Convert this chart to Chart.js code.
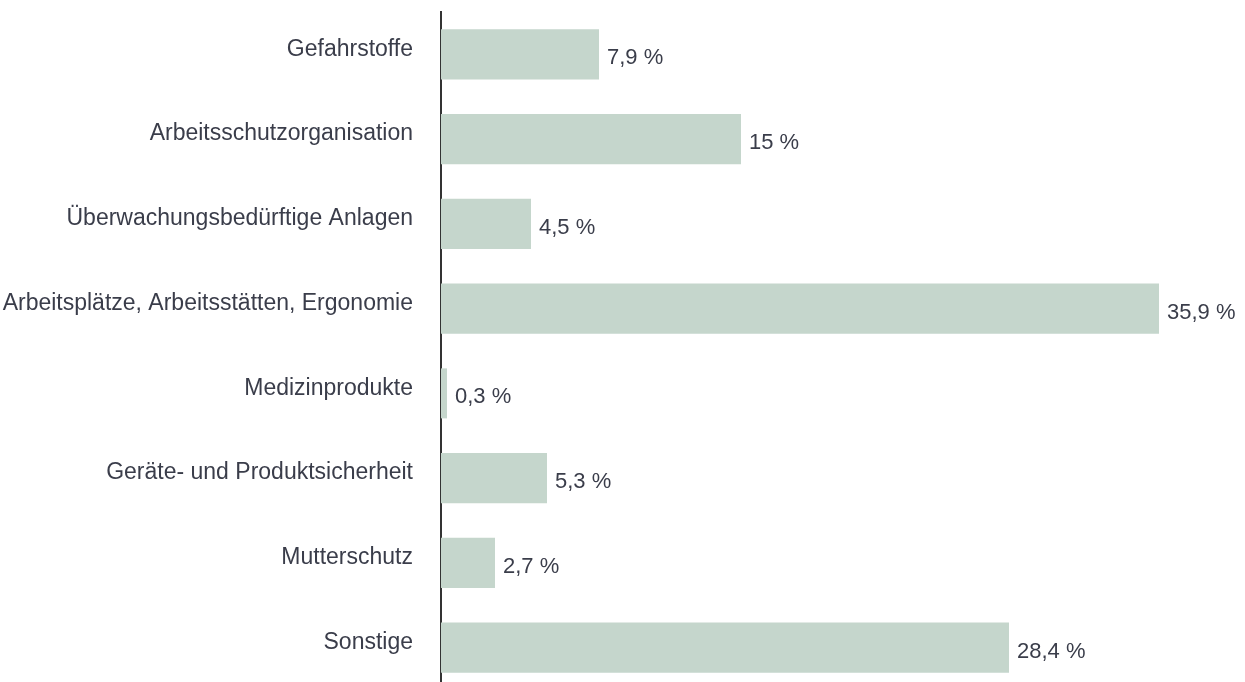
<!DOCTYPE html>
<html>
<head>
<meta charset="utf-8">
<script src="https://cdn.jsdelivr.net/npm/chart.js@4/dist/chart.umd.min.js"></script>
<style>
  html, body { margin: 0; padding: 0; background: #fff; overflow: hidden; }
  #wrap { width: 1245px; height: 690px; }
</style>
</head>
<body>
<div id="wrap"><canvas id="chart"></canvas></div>
<script>
// Kategorien und Anteile (in %)
const categories = [
    'Gefahrstoffe',
    'Arbeitsschutzorganisation',
    'Überwachungsbedürftige Anlagen',
    'Arbeitsplätze, Arbeitsstätten, Ergonomie',
    'Medizinprodukte',
    'Geräte- und Produktsicherheit',
    'Mutterschutz',
    'Sonstige'
];
const shares = [7.9, 15, 4.5, 35.9, 0.3, 5.3, 2.7, 28.4];
const shareLabels = ['7,9 %', '15 %', '4,5 %', '35,9 %', '0,3 %', '5,3 %', '2,7 %', '28,4 %'];

const FONT = '"Liberation Sans", Arial, sans-serif';
const TEXT = '#3a3d4a';

// draws the value text right of each bar
const valueLabels = {
    id: 'valueLabels',
    afterDatasetsDraw(chart) {
        const ctx = chart.ctx;
        const meta = chart.getDatasetMeta(0);
        ctx.save();
        ctx.font = '22px ' + FONT;
        ctx.fillStyle = TEXT;
        ctx.textAlign = 'left';
        ctx.textBaseline = 'middle';
        meta.data.forEach(function(bar, i) {
            ctx.fillText(shareLabels[i], bar.x + 8, bar.y + 4);
        });
        ctx.restore();
    }
};

const ctx = document.getElementById('chart').getContext('2d');
new Chart(ctx, {
    type: 'bar',
    data: {
        labels: categories,
        datasets: [{
            data: shares,
            backgroundColor: '#c5d6cc',
            borderWidth: 0,
            categoryPercentage: 0.59,
            barPercentage: 1
        }]
    },
    options: {
        indexAxis: 'y',
        responsive: true,
        maintainAspectRatio: false,
        animation: false,
        layout: { padding: { top: 12, right: 4, bottom: 0, left: 0 } },
        plugins: {
            legend: { display: false },
            tooltip: { enabled: false }
        },
        scales: {
            x: {
                display: false,
                min: 0,
                max: 40
            },
            y: {
                grid: { display: false, drawTicks: false },
                border: { display: true, color: '#333', width: 2 },
                ticks: {
                    color: TEXT,
                    font: { family: FONT, size: 23 },
                    padding: 28,
                    labelOffset: -5
                },
                afterFit(scale) {
                    scale.width = 441;
                    scale.paddingTop = 0;
                    scale.paddingBottom = 0;
                }
            }
        }
    },
    plugins: [valueLabels]
});
</script>
</body>
</html>
